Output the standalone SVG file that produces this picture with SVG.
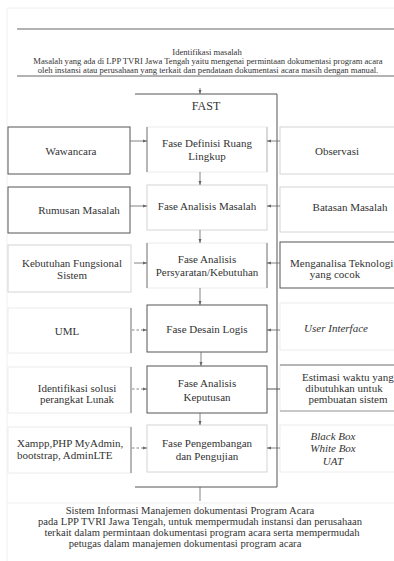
<svg xmlns="http://www.w3.org/2000/svg" width="394" height="561" viewBox="0 0 394 561" font-family="'Liberation Serif', 'Times New Roman', serif">
<style>
text{font-family:'Liberation Serif','Times New Roman',serif;fill:#333;}
.t{font-size:11px;text-anchor:middle;}
.s{font-size:8.6px;text-anchor:middle;}
.b{font-size:10.6px;text-anchor:middle;}
.i{font-style:italic;}
.dk{fill:#fff;stroke:#555;stroke-width:1;}
.lt{fill:#fff;stroke:#d4d4d4;stroke-width:1;}
.vl{fill:#fff;stroke:#ececec;stroke-width:1;}
.e{stroke:#555;stroke-width:1;fill:none;}
.c{stroke:#666;stroke-width:0.8;fill:none;}
.cd{stroke:#666;stroke-width:0.8;fill:none;stroke-dasharray:2.5,2;}
</style>
<defs>
<marker id="ah" markerWidth="4" markerHeight="4" refX="4" refY="2" orient="auto" markerUnits="userSpaceOnUse">
<path d="M0,0.5 L4,2 L0,3.5 Z" fill="#666"/>
</marker>
</defs>
<rect width="394" height="561" fill="#fff"/>
<g id="page">
<line x1="7" y1="8" x2="394" y2="8" stroke="#eeeeee"/>
<line x1="7" y1="8" x2="7" y2="561" stroke="#f0f0f0"/>
<line x1="7" y1="503" x2="394" y2="503" stroke="#eeeeee"/>
</g>
<g id="problem">
<line x1="17" y1="29" x2="394" y2="29" stroke="#666"/>
<line x1="17" y1="76" x2="394" y2="76" stroke="#666"/>
<text class="s" x="207" y="55">Identifikasi masalah</text>
<text class="s" x="208" y="64">Masalah yang ada di LPP TVRI Jawa Tengah yaitu mengenai permintaan dokumentasi program acara</text>
<text class="s" x="208" y="73">oleh instansi atau perusahaan yang terkait dan pendataan dokumentasi acara masih dengan manual.</text>
</g>
<g id="fast">
<path class="e" d="M135,94 H277 V487 H135"/>
<text class="t" x="206" y="110" style="font-size:12px">FAST</text>
</g>
<g id="fase1">
<rect class="vl" x="147" y="127" width="120" height="45"/>
<line x1="147" y1="127" x2="147" y2="172" stroke="#777"/>
<line x1="267" y1="127" x2="267" y2="172" stroke="#bbb"/>
<text class="t" x="207" y="147">Fase Definisi Ruang</text>
<text class="t" x="207" y="160">Lingkup</text>
</g>
<g id="fase2">
<rect class="lt" x="147" y="185" width="120" height="45"/>
<text class="t" x="207" y="210">Fase Analisis Masalah</text>
</g>
<g id="fase3">
<rect class="vl" x="147" y="243" width="120" height="45"/>
<line x1="147" y1="243" x2="147" y2="288" stroke="#777"/>
<line x1="267" y1="243" x2="267" y2="288" stroke="#777"/>
<text class="t" x="207" y="263">Fase Analisis</text>
<text class="t" x="207" y="276">Persyaratan/Kebutuhan</text>
</g>
<g id="fase4">
<rect class="dk" x="147" y="305" width="120" height="47"/>
<text class="t" x="207" y="333">Fase Desain Logis</text>
</g>
<g id="fase5">
<rect class="dk" x="147" y="366" width="120" height="47"/>
<text class="t" x="207" y="387">Fase Analisis</text>
<text class="t" x="207" y="401">Keputusan</text>
</g>
<g id="fase6">
<rect class="lt" x="147" y="425" width="120" height="47"/>
<text class="t" x="207" y="447">Fase Pengembangan</text>
<text class="t" x="207" y="460">dan Pengujian</text>
</g>
<g id="wawancara">
<rect class="dk" x="8" y="127" width="122" height="47"/>
<text class="t" x="71" y="155">Wawancara</text>
</g>
<g id="rumusan">
<rect class="dk" x="8" y="187" width="122" height="46"/>
<text class="t" x="79" y="214">Rumusan Masalah</text>
</g>
<g id="kebutuhan">
<rect class="lt" x="8" y="245" width="123" height="47"/>
<text class="t" x="72" y="267">Kebutuhan Fungsional</text>
<text class="t" x="72" y="279">Sistem</text>
</g>
<g id="uml">
<rect class="vl" x="8" y="308" width="123" height="45"/>
<line x1="131" y1="308" x2="131" y2="353" stroke="#777"/>
<text class="t" x="67" y="335">UML</text>
</g>
<g id="identifikasi">
<rect class="vl" x="8" y="367" width="123" height="46"/>
<line x1="131" y1="367" x2="131" y2="413" stroke="#777"/>
<text class="t" x="77" y="392">Identifikasi solusi</text>
<text class="t" x="77" y="403">perangkat Lunak</text>
</g>
<g id="xampp">
<rect class="vl" x="8" y="427" width="123" height="46"/>
<line x1="131" y1="427" x2="131" y2="473" stroke="#777"/>
<text class="t" x="17" y="447" style="text-anchor:start">Xampp,PHP MyAdmin,</text>
<text class="t" x="17" y="459" style="text-anchor:start">bootstrap, AdminLTE</text>
</g>
<g id="observasi">
<rect class="lt" x="280" y="127" width="120" height="47"/>
<text class="t" x="337" y="155">Observasi</text>
</g>
<g id="batasan">
<rect class="lt" x="280" y="187" width="120" height="45"/>
<text class="t" x="350" y="211">Batasan Masalah</text>
</g>
<g id="menganalisa">
<rect class="dk" x="280" y="242" width="120" height="46"/>
<text class="t" x="290" y="267" style="text-anchor:start">Menganalisa Teknologi</text>
<text class="t" x="335" y="278">yang cocok</text>
</g>
<g id="ui">
<rect class="vl" x="280" y="303" width="120" height="47"/>
<text class="t i" x="336" y="332">User Interface</text>
</g>
<g id="estimasi">
<rect class="vl" x="280" y="365" width="120" height="46"/>
<line x1="280" y1="365" x2="394" y2="365" stroke="#777"/>
<line x1="280" y1="411" x2="394" y2="411" stroke="#999"/>
<text class="t" x="302" y="381" style="text-anchor:start">Estimasi waktu yang</text>
<text class="t" x="344" y="392">dibutuhkan untuk</text>
<text class="t" x="348" y="403">pembuatan sistem</text>
</g>
<g id="blackbox">
<rect class="vl" x="280" y="425" width="120" height="47"/>
<text class="t i" x="333" y="440">Black Box</text>
<text class="t i" x="333" y="452">White Box</text>
<text class="t i" x="333" y="465">UAT</text>
</g>
<g id="result">
<text class="b" x="190" y="514">Sistem Informasi Manajemen dokumentasi Program Acara</text>
<text class="b" x="200" y="525">pada LPP TVRI Jawa Tengah, untuk mempermudah instansi dan perusahaan</text>
<text class="b" x="202" y="536">terkait dalam permintaan dokumentasi program acara serta mempermudah</text>
<text class="b" x="185" y="547">petugas dalam manajemen dokumentasi program acara</text>
</g>
<g id="connectors">
<line class="c" x1="200" y1="88" x2="200" y2="94" marker-end="url(#ah)"/>
<line class="c" x1="200" y1="172" x2="200" y2="185" stroke="#bbb" marker-end="url(#ah)"/>
<line class="c" x1="200" y1="230" x2="200" y2="243" marker-end="url(#ah)"/>
<line class="c" x1="200" y1="288" x2="200" y2="305" marker-end="url(#ah)"/>
<line class="c" x1="201" y1="352" x2="201" y2="366" marker-end="url(#ah)"/>
<line class="c" x1="200" y1="413" x2="200" y2="425" marker-end="url(#ah)"/>
<line class="c" x1="200" y1="487" x2="200" y2="501"/>
<line class="c" x1="130" y1="141" x2="147" y2="141" marker-end="url(#ah)"/>
<line class="c" x1="130" y1="206" x2="147" y2="206" marker-end="url(#ah)"/>
<line class="c" x1="134" y1="263" x2="147" y2="263" marker-end="url(#ah)"/>
<line class="cd" x1="132" y1="330" x2="147" y2="330" marker-end="url(#ah)"/>
<line class="cd" x1="132" y1="389" x2="147" y2="389" marker-end="url(#ah)"/>
<line class="cd" x1="132" y1="448" x2="147" y2="448" marker-end="url(#ah)"/>
<line class="c" x1="280" y1="141" x2="267" y2="141" marker-end="url(#ah)"/>
<line class="c" x1="280" y1="206" x2="267" y2="206" marker-end="url(#ah)"/>
<line class="c" x1="280" y1="263" x2="267" y2="263" marker-end="url(#ah)"/>
<line class="c" x1="280" y1="330" x2="267" y2="330" marker-end="url(#ah)"/>
<line class="e" x1="280" y1="389" x2="267" y2="389"/>
<line class="c" x1="280" y1="448" x2="267" y2="448" stroke="#bbb" marker-end="url(#ah)"/>
</g>
</svg>
